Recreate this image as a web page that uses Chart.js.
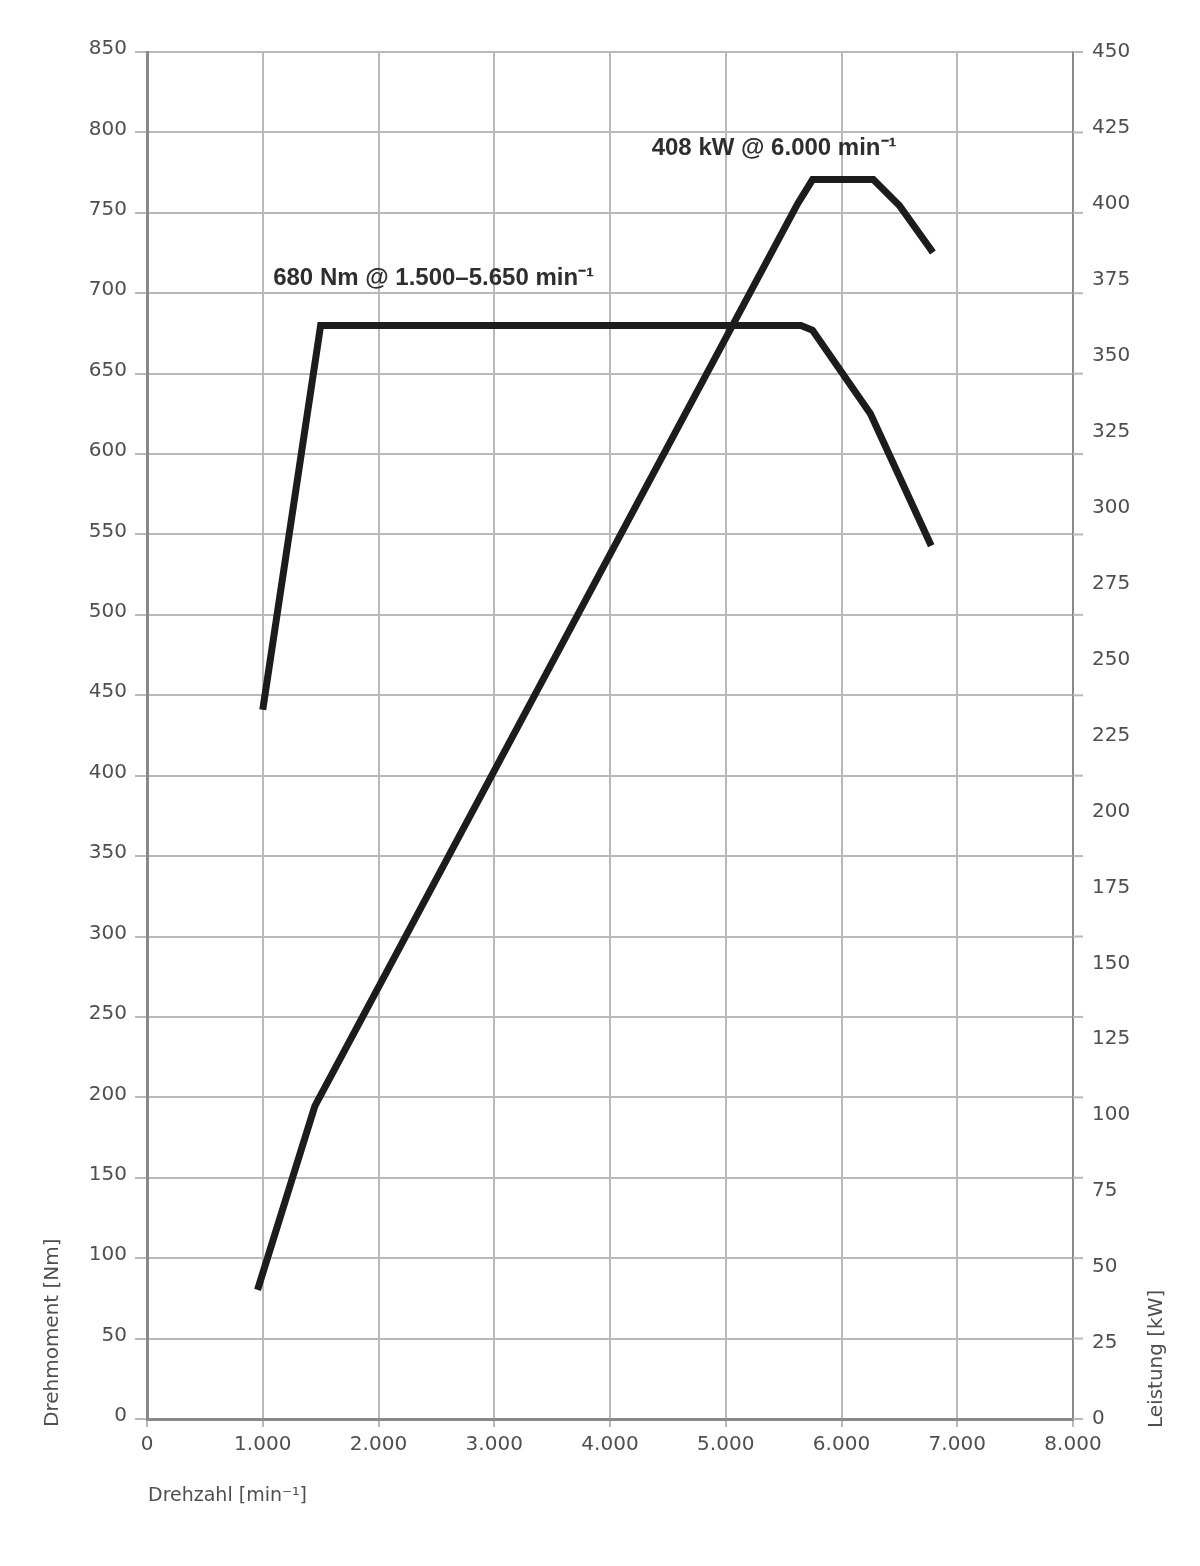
<!DOCTYPE html>
<html>
<head>
<meta charset="utf-8">
<script src="https://cdn.jsdelivr.net/npm/chart.js@4.4.1/dist/chart.umd.min.js"></script>
<style>
  html, body { margin: 0; padding: 0; background: #ffffff; }
  #wrap { position: relative; width: 1200px; height: 1566px; }
</style>
</head>
<body>
<div id="wrap"><canvas id="c"></canvas></div>
<script>
// ---- Data ----
const torqueRpm = [1000, 1500, 5650, 5750, 6250, 6775];
const torqueNm  = [441, 680, 680, 677, 625, 543];

const powerRpm = [955, 1450, 5620, 5750, 6275, 6500, 6790];
const powerKw  = [42.5, 103, 400, 408, 408, 399.5, 384];

const xAxisRange = [0, 8000];   // Drehzahl [min⁻¹]
const yAxisRange = [0, 850];    // Drehmoment [Nm]
const y2AxisRange = [0, 450];   // Leistung [kW]

const xTitle  = 'Drehzahl [min⁻¹]';
const yTitle  = 'Drehmoment [Nm]';
const y2Title = 'Leistung [kW]';

const peakLabels = [
  { text: '408 kW @ 6.000 min⁻¹', rpm: 4360, nm: 790 },
  { text: '680 Nm @ 1.500–5.650 min⁻¹', rpm: 1090, nm: 709 }
];

// ---- Helpers ----
function fmtThousands(v) {
  return String(v).replace(/\B(?=(\d{3})+(?!\d))/g, '.');
}

const GRID = '#b9b9b9';
const AXIS = '#8a8a8a';
const TEXT = '#4f4f4f';
const TICK_FONT = { family: 'DejaVu Sans', size: 20 };

const pairs = (xs, ys) => xs.map((x, i) => ({ x: x, y: ys[i] }));

const decorations = {
  id: 'decorations',
  afterDraw(chart) {
    const ctx = chart.ctx;
    const ca = chart.chartArea;
    const xs = chart.scales.x, ys = chart.scales.y;
    ctx.save();
    // right-side tick extensions of the horizontal grid lines
    ctx.strokeStyle = GRID;
    ctx.lineWidth = 2;
    ys.ticks.forEach(t => {
      const py = ys.getPixelForValue(t.value);
      ctx.beginPath();
      ctx.moveTo(ca.right, py);
      ctx.lineTo(ca.right + 10, py);
      ctx.stroke();
    });
    // axis titles
    ctx.fillStyle = TEXT;
    ctx.font = '20px "DejaVu Sans"';
    ctx.textBaseline = 'middle';
    ctx.textAlign = 'left';
    ctx.save();
    ctx.translate(53, ca.bottom + 8);
    ctx.rotate(-Math.PI / 2);
    ctx.fillText(yTitle, 0, 0);
    ctx.restore();
    ctx.save();
    ctx.translate(1157, ca.bottom + 9);
    ctx.rotate(-Math.PI / 2);
    ctx.fillText(y2Title, 0, 0);
    ctx.restore();
    ctx.font = '19px "DejaVu Sans"';
    ctx.fillText(xTitle, ca.left + 1, ca.bottom + 77);
    // peak annotations
    ctx.fillStyle = '#2e2e2e';
    ctx.font = 'bold 24px "Liberation Sans", Arial, sans-serif';
    peakLabels.forEach(l => {
      ctx.fillText(l.text, xs.getPixelForValue(l.rpm), ys.getPixelForValue(l.nm));
    });
    ctx.restore();
  }
};

new Chart(document.getElementById('c'), {
  type: 'line',
  data: {
    datasets: [
      {
        label: 'Drehmoment',
        data: pairs(torqueRpm, torqueNm),
        yAxisID: 'y',
        borderColor: '#1c1c1c',
        borderWidth: 7,
        pointRadius: 0,
        tension: 0,
        fill: false,
        borderJoinStyle: 'miter',
        borderCapStyle: 'butt'
      },
      {
        label: 'Leistung',
        data: pairs(powerRpm, powerKw),
        yAxisID: 'y2',
        borderColor: '#1c1c1c',
        borderWidth: 7,
        pointRadius: 0,
        tension: 0,
        fill: false,
        borderJoinStyle: 'miter',
        borderCapStyle: 'butt'
      }
    ]
  },
  options: {
    responsive: true,
    maintainAspectRatio: false,
    animation: false,
    devicePixelRatio: 1,
    layout: { padding: { top: 52, left: 0, right: 0, bottom: 0 } },
    plugins: {
      legend: { display: false },
      tooltip: { enabled: false }
    },
    scales: {
      x: {
        type: 'linear',
        position: 'bottom',
        min: xAxisRange[0],
        max: xAxisRange[1],
        afterFit(s) { s.height = 147; },
        ticks: {
          stepSize: 1000,
          padding: 6,
          maxRotation: 0,
          color: TEXT,
          font: TICK_FONT,
          callback: v => fmtThousands(v)
        },
        grid: { color: GRID, lineWidth: 2, tickLength: 8, tickColor: GRID },
        border: { color: AXIS, width: 3 }
      },
      y: {
        type: 'linear',
        position: 'left',
        min: yAxisRange[0],
        max: yAxisRange[1],
        afterFit(s) { s.width = 147; },
        ticks: {
          stepSize: 50,
          padding: 8,
          labelOffset: -3,
          color: TEXT,
          font: TICK_FONT
        },
        grid: { color: GRID, lineWidth: 2, tickLength: 12, tickColor: GRID },
        border: { color: AXIS, width: 3 }
      },
      y2: {
        type: 'linear',
        position: 'right',
        min: y2AxisRange[0],
        max: y2AxisRange[1],
        afterFit(s) { s.width = 127; },
        ticks: {
          stepSize: 25,
          padding: 19,
          color: TEXT,
          font: TICK_FONT
        },
        grid: { drawOnChartArea: false, drawTicks: false },
        border: { color: AXIS, width: 2 }
      }
    }
  },
  plugins: [decorations]
});
</script>
</body>
</html>
